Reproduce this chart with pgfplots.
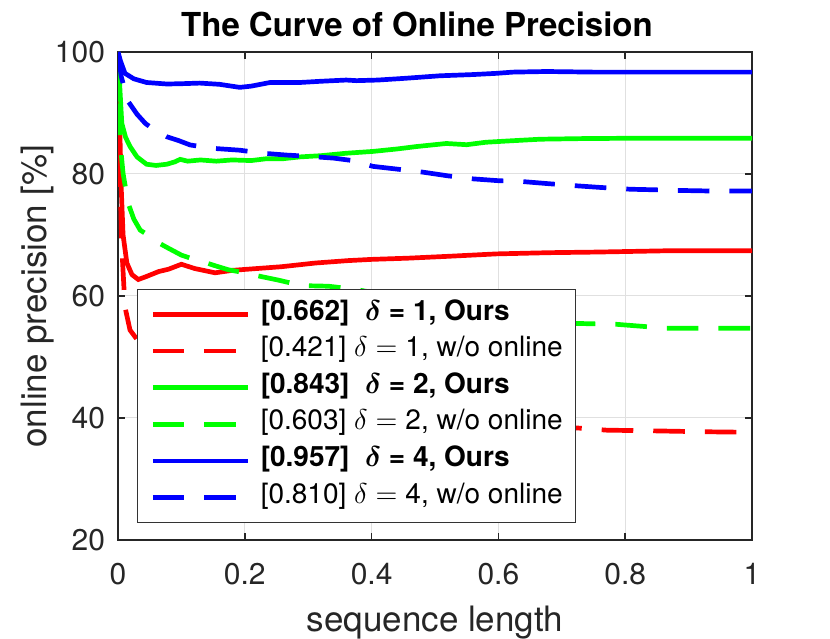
\documentclass[border=0pt]{standalone}
\usepackage{fontspec}
\setmainfont{TeX Gyre Heros}
\usepackage{bm}
\usepackage{pgfplots}
\pgfplotsset{compat=1.18}
\begin{document}
\begin{tikzpicture}
\begin{axis}[
  scale only axis, width=317bp, height=244bp,
  xmin=0, xmax=1, ymin=20, ymax=100,
  xtick={0,0.2,0.4,0.6,0.8,1}, ytick={20,40,60,80,100},
  xticklabels={0,0.2,0.4,0.6,0.8,1},
  /pgf/number format/assume math mode=true,
  grid=major, grid style={black!12, line width=0.5bp},
  axis line style={black!85, line width=0.8bp},
  tick align=inside, major tick length=3.6bp,
  tick style={black!85, line width=0.8bp},
  ticklabel style={font=\fontsize{15bp}{18bp}\selectfont, text=black!85},
  xticklabel style={yshift=-8bp},
  yticklabel style={xshift=-3bp},
  every axis title shift=0pt,
  title={The Curve of Online Precision},
  title style={font=\bfseries\fontsize{16.5bp}{20bp}\selectfont, at={(axis description cs:0.4716,1.0316)}, anchor=base},
  xlabel={sequence length},
  xlabel style={font=\fontsize{17.5bp}{21bp}\selectfont, text=black!85, at={(axis description cs:0.5,-0.1877)}, anchor=base},
  ylabel={online precision [\%]},
  ylabel style={font=\fontsize{17.5bp}{21bp}\selectfont, text=black!85, at={(axis description cs:-0.112,0.5)}, anchor=base},
  legend cell align=left,
  legend image code/.code={\draw[#1] (0bp,0bp) -- (47.5bp,0bp);},
  legend style={at={(axis description cs:0.0304,0.0348)}, anchor=south west,
    draw=black!80, line width=0.6bp, fill=white,
    font=\fontsize{14bp}{17bp}\selectfont,
    inner xsep=6.3bp, inner ysep=3.3bp, row sep=0pt, column sep=5.3bp,
    nodes={inner xsep=0pt, inner ysep=0pt, text height=12bp, text depth=6.3bp}},
  solidl/.style={line width=2.35bp},
  dashl/.style={line width=2.35bp, dash pattern=on 15.8bp off 10bp},
]
\addplot[red, solidl] coordinates {
(0,100) (0.003,86.7) (0.005,78) (0.008,70) (0.014,65.4) (0.022,63.5) (0.032,62.7) (0.045,63.2) (0.064,64.0) (0.08,64.4) (0.1,65.2) (0.121,64.5) (0.153,63.8) (0.18,64.2) (0.206,64.4) (0.258,64.8) (0.311,65.4) (0.363,65.8) (0.40,66.0) (0.458,66.2) (0.52,66.5) (0.597,66.9) (0.68,67.1) (0.755,67.2) (0.86,67.4) (1.0,67.4)
};
\addlegendentry{\textbf{[0.662]\ \ $\bm{\delta}$ = 1, Ours}}
\addplot[red, dashl] coordinates {
(0,100) (0.003,80) (0.006,68) (0.011,58.2) (0.019,54.4) (0.027,53.3) (0.04,51.5) (0.06,49.5) (0.1,47) (0.15,45) (0.2,43.5) (0.3,41.5) (0.4,40.3) (0.5,39.5) (0.6,38.9) (0.7,38.5) (0.734,38.3) (0.771,38.0) (0.839,37.9) (0.918,37.75) (1.0,37.65)
};
\addlegendentry{[0.421] $\delta = {}$1, w/o online}
\addplot[green, solidl] coordinates {
(0,100) (0.003,94) (0.006,88.3) (0.012,86) (0.019,84.5) (0.03,82.8) (0.045,81.6) (0.06,81.4) (0.077,81.6) (0.09,82.0) (0.098,82.4) (0.11,82.1) (0.13,82.3) (0.155,82.1) (0.18,82.3) (0.21,82.2) (0.234,82.5) (0.26,82.5) (0.287,82.8) (0.32,83.0) (0.36,83.4) (0.402,83.7) (0.44,84.1) (0.471,84.5) (0.518,85.0) (0.55,84.8) (0.58,85.2) (0.613,85.4) (0.666,85.7) (0.73,85.8) (0.797,85.85) (1.0,85.85)
};
\addlegendentry{\textbf{[0.843]\ \ $\bm{\delta}$ = 2, Ours}}
\addplot[green, dashl] coordinates {
(0,100) (0.003,85.6) (0.008,80.1) (0.016,75.2) (0.025,72.6) (0.035,70.8) (0.05,69.8) (0.066,68.6) (0.08,67.8) (0.1,66.7) (0.12,66.0) (0.137,65.5) (0.155,64.9) (0.174,64.3) (0.195,63.9) (0.216,63.4) (0.253,62.6) (0.29,61.7) (0.332,61.6) (0.374,61.1) (0.40,60.6) (0.45,59.4) (0.5,58.3) (0.55,57.3) (0.6,56.6) (0.65,56.0) (0.70,55.7) (0.723,55.5) (0.787,55.35) (0.83,55.0) (0.865,54.7) (0.944,54.7) (1.0,54.7)
};
\addlegendentry{[0.603] $\delta = {}$2, w/o online}
\addplot[blue, solidl] coordinates {
(0,100) (0.004,98.5) (0.011,96.5) (0.025,95.6) (0.045,95.0) (0.077,94.75) (0.1,94.8) (0.129,94.9) (0.16,94.7) (0.192,94.2) (0.21,94.4) (0.24,95.0) (0.287,95.0) (0.32,95.2) (0.36,95.4) (0.376,95.3) (0.41,95.4) (0.455,95.7) (0.508,96.1) (0.56,96.3) (0.597,96.5) (0.623,96.7) (0.676,96.8) (0.75,96.7) (0.85,96.7) (1.0,96.7)
};
\addlegendentry{\textbf{[0.957]\ \ $\bm{\delta}$ = 4, Ours}}
\addplot[blue, dashl] coordinates {
(0,100) (0.005,96) (0.016,91.9) (0.03,89.8) (0.043,88.3) (0.06,87.0) (0.077,86.1) (0.095,85.5) (0.114,84.75) (0.15,84.2) (0.192,83.9) (0.229,83.4) (0.266,83.1) (0.30,82.9) (0.34,82.6) (0.37,82.2) (0.402,81.25) (0.44,80.8) (0.481,80.3) (0.52,79.7) (0.56,79.2) (0.6,78.9) (0.639,78.75) (0.68,78.4) (0.718,78.1) (0.76,77.8) (0.808,77.5) (0.85,77.4) (0.886,77.3) (0.94,77.2) (1.0,77.2)
};
\addlegendentry{[0.810] $\delta = {}$4, w/o online}
\end{axis}
\pgfresetboundingbox
\path ([xshift=-59bp,yshift=-49.5bp]current axis.south west) rectangle ([xshift=39bp,yshift=26bp]current axis.north east);
\end{tikzpicture}
\end{document}
